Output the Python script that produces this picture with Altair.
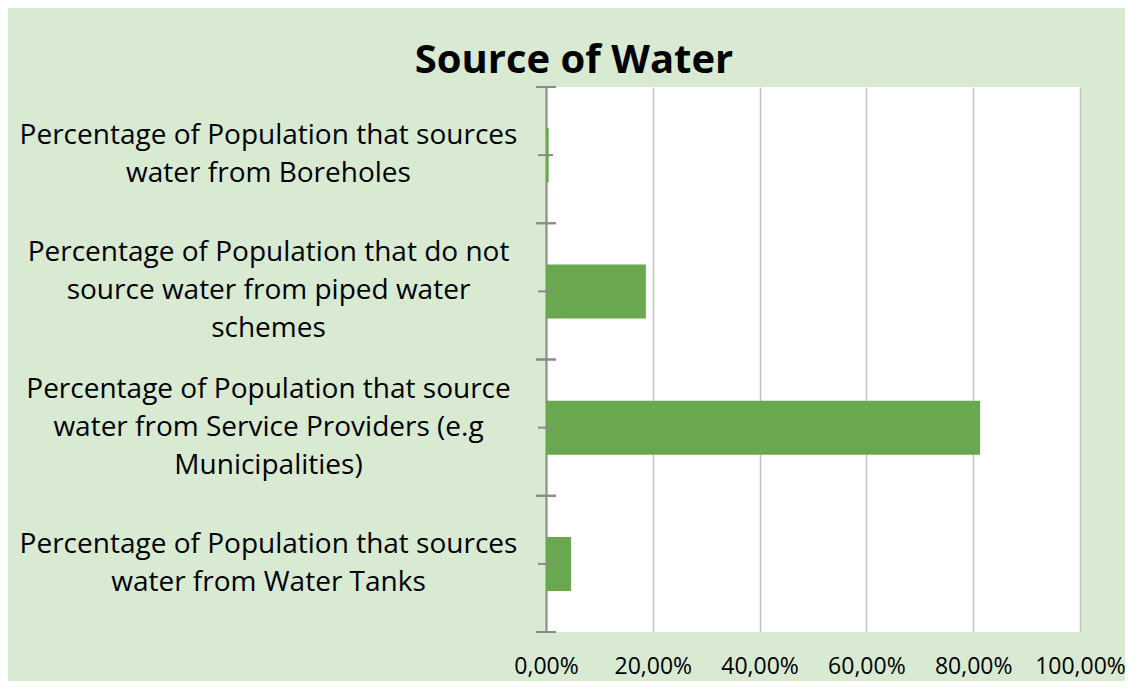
import altair as alt
import pandas as pd

# ---- data ----
categories = [
    "Percentage of Population that sources\nwater from Boreholes",
    "Percentage of Population that do not\nsource water from piped water\nschemes",
    "Percentage of Population that source\nwater from Service Providers (e.g\nMunicipalities)",
    "Percentage of Population that sources\nwater from Water Tanks",
]
values = [0.005, 0.187, 0.813, 0.047]
x_ticks = [0.0, 0.2, 0.4, 0.6, 0.8, 1.0]
chart_title = "Source of Water"

df = pd.DataFrame({"category": categories, "value": values})

FONT = "Open Sans"
AXIS_GRAY = "#8a8a8a"

y_scale = alt.Scale(paddingInner=0, paddingOuter=0)

x_enc = alt.X(
    "value:Q",
    scale=alt.Scale(domain=[0, 1], nice=False),
    axis=alt.Axis(
        values=x_ticks,
        labelExpr="replace(format(datum.value, '.2%'), '.', ',')",
        title=None,
        domain=False,
        ticks=True,
        tickSize=0,
        tickOpacity=0,
        grid=True,
        gridColor="#c3c3c3",
        gridWidth=1.5,
        labelFontSize=23,
        labelFont=FONT,
        labelColor="#000000",
        labelPadding=34,
        labelBaseline="middle",
        labelOverlap=False,
        labelBound=False,
        labelFlush=False,
    ),
)

three_line = "indexof(datum.value, 'schemes') >= 0 || indexof(datum.value, 'Municipalities') >= 0"

y_axis = alt.Axis(
    title=None,
    labelExpr="split(datum.label, '\\n')",
    labelAlign="center",
    labelBaseline="middle",
    labelPadding=268,
    labelLimit=0,
    labelFontSize=28,
    labelFont=FONT,
    labelColor="#000000",
    labelLineHeight=38,
    labelOffset=alt.condition(three_line, alt.value(-38), alt.value(-19)),
    domain=True,
    domainColor=AXIS_GRAY,
    domainWidth=2,
    ticks=True,
    tickSize=10,
    tickOpacity=0,
    grid=False,
)

bars = alt.Chart(df).mark_bar(color="#6aa84f", size=54).encode(
    x=x_enc,
    y=alt.Y("category:N", sort=categories, scale=y_scale, axis=y_axis),
)

# crossing tick marks of the category axis (band boundaries and band centres)
tick_start = alt.Chart(df).mark_rule(color=AXIS_GRAY, strokeWidth=2).encode(
    y=alt.Y("category:N", sort=categories, bandPosition=0),
    x=alt.value(-10),
    x2=alt.value(10),
)
tick_end = alt.Chart(df).mark_rule(color=AXIS_GRAY, strokeWidth=2).encode(
    y=alt.Y("category:N", sort=categories, bandPosition=1),
    x=alt.value(-10),
    x2=alt.value(10),
)
tick_mid = alt.Chart(df).mark_rule(color=AXIS_GRAY, strokeWidth=2).encode(
    y=alt.Y("category:N", sort=categories, bandPosition=0.5),
    x=alt.value(-8),
    x2=alt.value(7),
)

chart = alt.layer(bars, tick_start, tick_end, tick_mid).properties(
    width=534,
    height=545,
    title=alt.TitleParams(
        text=chart_title,
        font=FONT,
        fontSize=40,
        fontWeight="bold",
        color="#000000",
        anchor="middle",
        frame="group",
        dx=-239,
        dy=39,
        baseline="alphabetic",
        offset=12,
    ),
    autosize=alt.AutoSizeParams(type="none"),
    padding={"left": 538, "top": 79, "right": 45, "bottom": 49},
).configure(
    background="#d9ead3",
).configure_view(
    fill="#ffffff",
    strokeWidth=0,
)

chart.save("out.html", embed_options={"renderer": "svg", "actions": False})
